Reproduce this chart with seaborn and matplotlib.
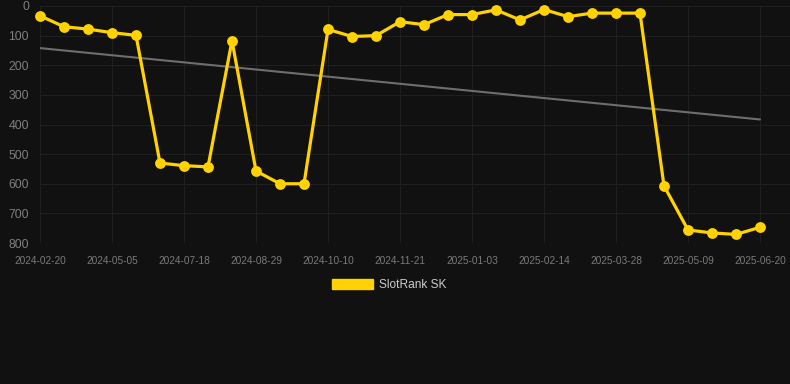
import numpy as np
import pandas as pd
import seaborn as sns
import matplotlib.pyplot as plt
from matplotlib.patches import Patch

# rank per observation (lower is better, axis inverted)
ranks = [33, 70, 78, 90, 99, 530, 539, 543, 117, 557, 600, 600,
         79, 103, 100, 53, 63, 29, 29, 13, 47, 12, 36, 24, 24, 24,
         607, 756, 766, 771, 747]
tick_labels = ["2024-02-20", "2024-05-05", "2024-07-18", "2024-08-29",
               "2024-10-10", "2024-11-21", "2025-01-03", "2025-02-14",
               "2025-03-28", "2025-05-09", "2025-06-20"]
series_name = "SlotRank SK"

bg = "#111111"
gold = "#FFD200"
grid_c = "#1f1f1f"

df = pd.DataFrame({"idx": np.arange(len(ranks)), "rank": ranks})
coef = np.polyfit(df["idx"], df["rank"], 1)
df["trend"] = np.polyval(coef, df["idx"])

sns.set_style("dark")
plt.rcParams["font.family"] = ["Liberation Sans", "DejaVu Sans"]

fig = plt.figure(figsize=(7.9, 3.84), dpi=100, facecolor=bg)
ax = fig.add_axes([40 / 790, 1 - 243 / 384, 750 / 790, 237 / 384])
ax.set_facecolor(bg)

sns.lineplot(data=df, x="idx", y="trend", ax=ax, color="#6e6e6e", linewidth=1.5)
sns.lineplot(data=df, x="idx", y="rank", ax=ax, color=gold, linewidth=2.3,
             marker="o", markersize=7.8, markeredgewidth=0, clip_on=False)

ax.set_xlim(0, 31.25)
ax.set_ylim(800, 0)
ax.set_yticks(range(0, 801, 100))
ax.set_xticks(range(0, len(ranks), 3))
ax.set_xticklabels(tick_labels)
ax.set_xlabel("")
ax.set_ylabel("")

ax.grid(True, color=grid_c, linewidth=0.8)
ax.tick_params(axis="x", colors=grid_c, length=6, width=0.8, labelcolor="#7a7a7a",
               labelsize=7.3, pad=3)
ax.tick_params(axis="y", length=0, labelcolor="#7f7f7f", labelsize=8.8, pad=8)
for s in ax.spines.values():
    s.set_visible(False)

handle = Patch(facecolor=gold, edgecolor=gold)
fig.legend([handle], [series_name], loc="center", bbox_to_anchor=(0.493, 1 - 285 / 384),
           frameon=False, fontsize=8.6, labelcolor="#cccccc",
           handlelength=3.4, handleheight=0.9, handletextpad=0.5)

fig.savefig("out.png", dpi=100, facecolor=bg)
plt.close(fig)
